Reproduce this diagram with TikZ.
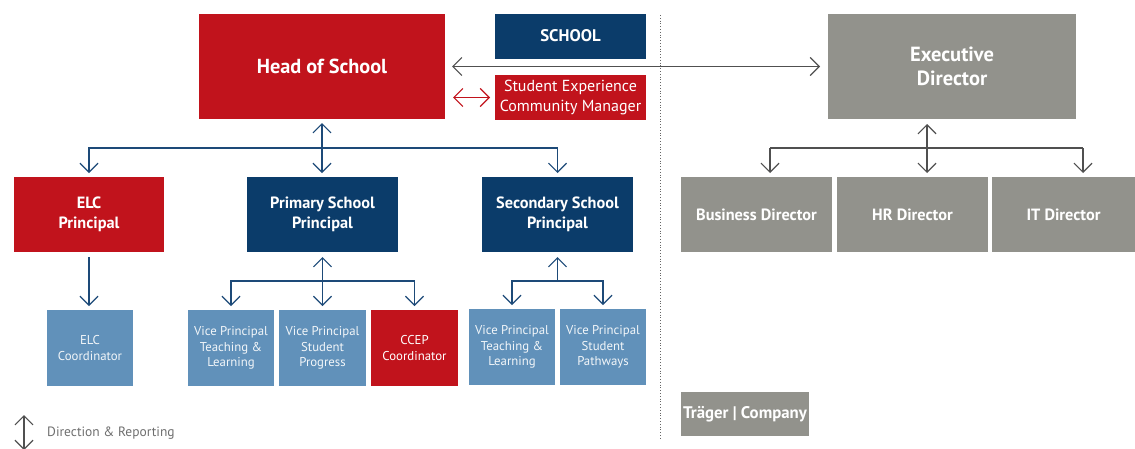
\documentclass[tikz,border=0pt]{standalone}
\usepackage{fontspec}
\setmainfont{PT Sans}
\usetikzlibrary{arrows.meta,calc}
\definecolor{cred}{HTML}{C1131C}
\definecolor{cnavy}{HTML}{0B3C6A}
\definecolor{clight}{HTML}{6191BA}
\definecolor{cgray}{HTML}{92928C}
\definecolor{carrowb}{HTML}{1D4A78}
\definecolor{carrowg}{HTML}{505050}
\definecolor{ctext}{HTML}{6E6E6E}
\begin{document}
\begin{tikzpicture}[x=1pt,y=-1pt,
  box/.style={inner sep=0pt,outer sep=0pt,align=center,text=white,font=\bfseries\fontsize{16.3}{20}\selectfont},
  redbox/.style={box,fill=cred},
  navybox/.style={box,fill=cnavy},
  graybox/.style={box,fill=cgray},
  lightbox/.style={box,fill=clight,text=white!92!clight,font=\fontsize{12.8}{15.5}\selectfont},
  sz/.style 2 args={minimum width=#1pt,minimum height=#2pt},
  arr/.style={line width=1.2pt,color=carrowb,arrows={-Straight Barb[length=9pt,width=18pt,line width=1.2pt]}},
  darr/.style={line width=1.2pt,color=carrowb,arrows={Straight Barb[length=9pt,width=18pt,line width=1.2pt]-Straight Barb[length=9pt,width=18pt,line width=1.2pt]}},
  plain/.style={line width=1.2pt,color=carrowb},
]
\useasboundingbox (0,0) rectangle (1135,448);
\clip (0,0) rectangle (1135,448);

% boxes
\node[redbox,sz={246}{105},font=\bfseries\fontsize{20.3}{23}\selectfont] (head) at (322,66.5) {Head of School};
\node[navybox,sz={151}{45},font=\bfseries\fontsize{16.8}{18}\selectfont] (school) at (570.5,36) {SCHOOL};
\node[redbox,sz={151}{45},font=\fontsize{16}{20}\selectfont] (sem) at (570.5,97.5) {Student Experience\\Community Manager};
\node[graybox,sz={248}{105},font=\bfseries\fontsize{20.5}{24}\selectfont] (exec) at (952,66.5) {Executive\\Director};

\node[redbox,sz={150}{75}] (elc) at (89,214.5) {ELC\\Principal};
\node[navybox,sz={151}{75}] (prim) at (322.5,214.5) {Primary School\\Principal};
\node[navybox,sz={151}{75}] (secp) at (557.5,214.5) {Secondary School\\Principal};

\node[graybox,sz={151}{75}] (bus) at (756.5,214.5) {Business Director};
\node[graybox,sz={151}{75}] (hr) at (912.5,214.5) {HR Director};
\node[graybox,sz={143}{75}] (it) at (1063.5,214.5) {IT Director};

\node[lightbox,sz={86}{76}] (elcc) at (90,348) {ELC\\Coordinator};
\node[lightbox,sz={86}{76}] (vptl) at (231,348) {Vice Principal\\Teaching \&\\Learning};
\node[lightbox,sz={87}{76}] (vpsp) at (322.5,348) {Vice Principal\\Student\\Progress};
\node[redbox,sz={87}{76},font=\fontsize{12.8}{15.5}\selectfont] (ccep) at (414.5,348) {CCEP\\Coordinator};
\node[lightbox,sz={86}{76}] (vptl2) at (512,347) {Vice Principal\\Teaching \&\\Learning};
\node[lightbox,sz={86}{76}] (vpsw) at (603,347) {Vice Principal\\Student\\Pathways};

\node[graybox,sz={128}{44},font=\bfseries\fontsize{16.8}{18}\selectfont] (trager) at (745,414) {Träger | Company};

% divider
\coordinate (dtop) at (660,15);
\coordinate (dbot) at (660,438);
\draw[color=black!60,line width=0.8pt,dotted] (dtop) -- (dbot);

% head <-> exec
\draw[darr,color=carrowg,shorten <=7pt,shorten >=8pt] (head.east) -- (exec.west);
% head <-> SE manager
\draw[darr,color=cred,shorten <=8pt,shorten >=5pt] (sem.west -| head.east) -- (sem.west);

% head down
\coordinate (hb) at (322,148);
\draw[darr,shorten <=4pt,shorten >=4pt] (head.south) -- (head.south |- prim.north);
\draw[arr,shorten >=4pt] (hb) -| (elc.north);
\draw[arr,shorten >=4pt] (hb) -| (secp.north);

% ELC
\draw[arr,shorten <=5pt,shorten >=4pt] (elc.south) -- (elc.south |- elcc.north);

% Primary
\coordinate (pb) at (322.5,281);
\draw[darr,shorten <=5pt,shorten >=4pt] (prim.south) -- (vpsp.north);
\draw[arr,shorten >=4pt] (pb) -| (vptl.north);
\draw[arr,shorten >=4pt] (pb) -| (ccep.north);

% Secondary
\coordinate (sb) at (557.5,281);
\draw[arr,shorten >=5pt] (sb) -- (secp.south);
\draw[arr,shorten >=4pt] (sb) -| (vptl2.north);
\draw[arr,shorten >=4pt] (sb) -| (vpsw.north);

% Executive
\coordinate (eb) at (927,148);
\coordinate (ebl) at (770,148);
\coordinate (ebr) at (1083,148);
\coordinate (etop) at (927,119);
\draw[darr,color=carrowg,shorten <=5pt,shorten >=4pt] (etop) -- (etop |- hr.north);
\draw[plain,color=carrowg] (ebl) -- (ebr);
\draw[arr,color=carrowg,shorten >=4pt] (ebl) -- (ebl |- bus.north);
\draw[arr,color=carrowg,shorten >=4pt] (ebr) -- (ebr |- it.north);

% legend
\coordinate (lg1) at (24,415);
\coordinate (lg2) at (24,450);
\draw[darr,color=carrowg] (lg1) -- (lg2);
\node[anchor=west,inner sep=0pt,text=ctext,font=\fontsize{13.5}{15}\selectfont] (legtxt) at (47,433) {Direction \& Reporting};
\end{tikzpicture}
\end{document}
